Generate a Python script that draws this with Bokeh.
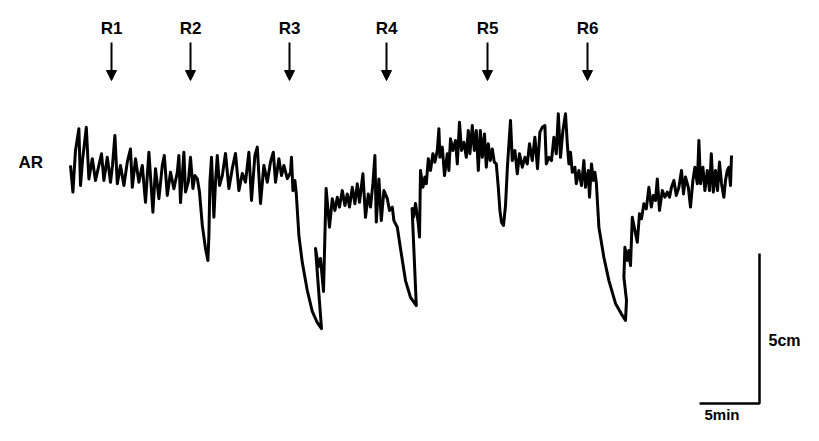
from bokeh.plotting import figure
from bokeh.models import Range1d, ColumnDataSource, Arrow, NormalHead
from bokeh.core.properties import value
from bokeh.embed import file_html
from bokeh.resources import INLINE

# ---- data: arterial (AR) trace, time in seconds, pen deflection in mm ----
time_s = [0, 12, 25, 42, 50, 60, 79, 92, 109, 125, 142, 155, 167, 184, 200, 210, 222, 234, 250, 267,
          284, 300, 309, 325, 342, 359, 375, 392, 412, 425, 442, 459, 469, 484, 500, 517, 534, 542, 550, 567,
          575, 589, 600, 612, 622, 634, 645, 659, 675, 687, 692, 697, 705, 717, 725, 734, 745, 759, 775, 792,
          809, 825, 842, 859, 875, 892, 905, 922, 934, 950, 967, 984, 1000, 1014, 1025, 1042, 1055, 1067, 1084, 1100,
          1105, 1112, 1122, 1129, 1142, 1159, 1184, 1209, 1234, 1255, 1225, 1240, 1250, 1265, 1278, 1295, 1309, 1322, 1334, 1345,
          1359, 1372, 1384, 1395, 1409, 1422, 1434, 1445, 1462, 1475, 1489, 1500, 1512, 1522, 1529, 1542, 1554, 1567, 1584, 1595,
          1609, 1617, 1634, 1650, 1675, 1700, 1729, 1708, 1715, 1725, 1739, 1745, 1750, 1762, 1772, 1779, 1789, 1800, 1812, 1822,
          1834, 1842, 1847, 1859, 1870, 1884, 1892, 1900, 1912, 1925, 1934, 1945, 1955, 1967, 1979, 1989, 1997, 2009, 2019, 2029,
          2039, 2049, 2059, 2070, 2079, 2089, 2099, 2109, 2119, 2129, 2139, 2147, 2155, 2165, 2175, 2185, 2200, 2209, 2222, 2234,
          2245, 2259, 2272, 2284, 2295, 2309, 2322, 2335, 2347, 2359, 2372, 2379, 2392, 2405, 2417, 2429, 2439, 2450, 2462, 2475,
          2484, 2492, 2500, 2509, 2522, 2529, 2542, 2555, 2567, 2575, 2589, 2595, 2605, 2614, 2622, 2629, 2642, 2667, 2692, 2725,
          2759, 2775, 2780, 2767, 2772, 2784, 2792, 2800, 2809, 2822, 2834, 2845, 2855, 2867, 2879, 2892, 2904, 2914, 2925, 2934,
          2945, 2959, 2972, 2984, 2995, 3005, 3017, 3029, 3042, 3055, 3065, 3075, 3089, 3100, 3112, 3122, 3134, 3142, 3150, 3162,
          3172, 3184, 3195, 3204, 3214, 3225, 3235, 3245, 3255, 3267, 3275, 3284, 3292, 3300, 3305]
deflection_mm = [1.7, -7.2, 6.7, 13.9, -5.0, 3.3, 14.4, -2.8, 3.9, -3.3, 1.7, 5.6, -3.3, 4.4, -3.9, 1.7, 11.7, -4.4, 1.7, -5.0,
                 2.8, 7.2, -5.6, 3.9, -3.9, 1.7, -10.6, 6.1, -13.9, 0.6, -9.4, 1.7, 5.0, -8.3, -0.6, -6.1, -0.6, 5.0, -10.7, 6.1,
                 -7.2, -3.9, 4.4, -6.0, -1.7, -2.7, -7.2, -18.3, -26.0, -30.0, -21.7, -3.9, 4.4, -15.6, -3.9, 5.0, -5.0, -1.7, 5.7, -6.0,
                 0.7, 5.7, -6.7, -1.0, -3.9, 6.1, -10.0, 5.0, 7.8, -11.0, 1.7, -3.9, 2.8, 6.1, -3.9, 3.9, -1.7, 1.7, -2.7, -0.6,
                 4.4, -6.7, -3.3, -7.8, -21.7, -30.7, -40.0, -47.0, -50.7, -52.7, -26.0, -32.0, -29.3, -40.3, -6.0, -18.9, -9.4, -13.3, -8.9, -12.2,
                 -6.7, -11.7, -7.8, -12.2, -5.6, -11.1, -4.4, -10.6, -1.1, -15.6, -7.8, -12.2, -4.4, 5.0, -17.2, -2.8, -16.7, -6.7, -9.4, -13.3,
                 -12.2, -16.7, -18.9, -26.0, -36.7, -42.3, -45.0, -12.7, -15.6, -11.0, -17.7, -22.2, 0.0, -5.6, -2.2, -4.4, 3.9, 0.0, 5.6, 2.8,
                 6.7, 13.9, 4.4, 7.8, -1.7, 5.6, 0.0, 10.6, 6.7, 10.0, 2.2, 16.1, 6.7, 9.4, 4.4, 13.3, 5.6, 15.0, 6.7, 13.3,
                 0.0, 13.3, 4.4, 12.2, 1.1, 8.9, 3.3, 7.2, 2.8, 2.2, -5.6, -13.3, -17.2, -18.3, -11.7, 1.7, 16.7, 3.3, 6.7, -1.1,
                 5.6, 1.1, 4.4, 2.2, 8.9, 3.3, 11.1, 0.6, 12.8, 14.4, 15.0, 2.2, 4.4, 3.3, 11.1, 5.6, 18.9, 4.4, 13.3, 18.9,
                 8.9, 2.2, 6.1, -0.6, 1.1, -4.4, 0.0, -5.0, 3.3, -5.6, 0.0, -8.9, 2.2, -3.3, -0.6, -3.9, -18.9, -29.0, -36.7, -44.3,
                 -48.3, -50.0, -43.3, -35.6, -25.6, -30.0, -26.7, -31.7, -15.6, -20.0, -23.9, -14.4, -16.1, -11.1, -12.8, -5.6, -12.2, -8.3, -10.0, -2.8,
                 -13.3, -6.7, -8.9, -7.2, -8.9, -5.6, -3.3, -8.3, -5.6, 0.0, -7.8, -2.2, -5.6, -12.2, -3.3, 1.1, -4.4, 10.0, -4.4, 1.1,
                 -6.7, 0.0, -6.7, 5.6, -7.2, 0.0, -6.7, 2.8, -4.4, -8.9, -3.3, 0.0, 1.1, -5.0, 5.0]

# injection markers R1..R6 (time in seconds)
marker_labels = ["R1", "R2", "R3", "R4", "R5", "R6"]
marker_time_s = [205, 600, 1095, 1580, 2085, 2585]

# calibration bars
scale_time_s = 300      # 5 min
scale_defl_mm = 50      # 5 cm
scale_time_label = "5min"
scale_defl_label = "5cm"
trace_label = "AR"

# ---- layout constants (positions in data units) ----
ARROW_TOP, ARROW_TIP, LABEL_Y = 42.7, 30.0, 47.3
BAR_T0, BAR_A0 = 3145, -77.7
FONT = value("Liberation Sans")

p = figure(width=803, height=425, output_backend="svg", toolbar_location=None,
           x_range=Range1d(-350, 3665), y_range=Range1d(-85.0, 56.67),
           min_border=0, min_border_left=0, min_border_right=0,
           min_border_top=0, min_border_bottom=0)
p.axis.visible = False
p.xgrid.visible = False
p.ygrid.visible = False
p.outline_line_color = None
p.background_fill_color = "white"
p.border_fill_color = "white"

# trace
p.line(time_s, deflection_mm, line_color="black", line_width=3, line_join="round")

# arrows
for t in marker_time_s:
    p.add_layout(Arrow(x_start=t, y_start=ARROW_TOP, x_end=t, y_end=ARROW_TIP,
                       line_color="black", line_width=2,
                       end=NormalHead(size=10, fill_color="black", line_color="black", line_width=1)))

src = ColumnDataSource(dict(x=marker_time_s, y=[LABEL_Y] * len(marker_time_s), t=marker_labels))
p.text(x="x", y="y", text="t", source=src, text_font=FONT, text_font_style="bold",
       text_font_size="17px", text_align="center", text_baseline="middle", text_color="black")

# AR label
p.text(x=[-260], y=[2.7], text=[trace_label], text_font=FONT, text_font_style="bold",
       text_font_size="17px", text_align="left", text_baseline="middle", text_color="black")

# calibration L
p.line([BAR_T0, BAR_T0 + scale_time_s, BAR_T0 + scale_time_s],
       [BAR_A0, BAR_A0, BAR_A0 + scale_defl_mm], line_color="black", line_width=2.5)
p.text(x=[BAR_T0 + scale_time_s + 45], y=[BAR_A0 + scale_defl_mm * 0.42], text=[scale_defl_label],
       text_font=FONT, text_font_style="bold", text_font_size="16px",
       text_align="left", text_baseline="middle", text_color="black")
p.text(x=[BAR_T0 + 25], y=[-81.4], text=[scale_time_label],
       text_font=FONT, text_font_style="bold", text_font_size="15px",
       text_align="left", text_baseline="middle", text_color="black")

open("out.html", "w").write(file_html(p, INLINE))
